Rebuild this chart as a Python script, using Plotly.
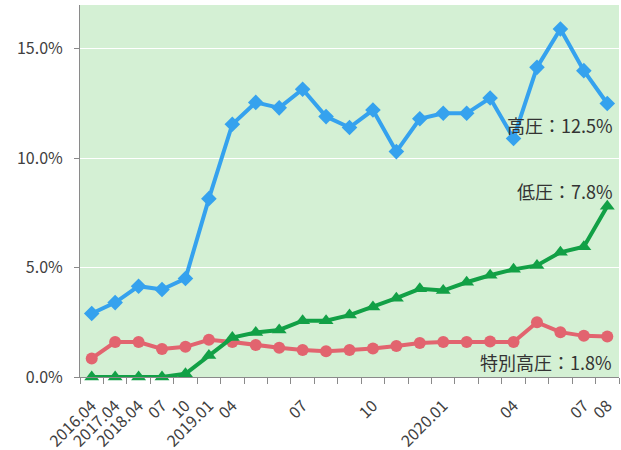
import plotly.graph_objects as go

categories = ["2016.04", "2017.04", "2018.04", "2018.07", "2018.10", "2019.01",
              "2019.04", "2019.05", "2019.06", "2019.07", "2019.08", "2019.09",
              "2019.10", "2019.11", "2019.12", "2020.01", "2020.02", "2020.03",
              "2020.04", "2020.05", "2020.06", "2020.07", "2020.08"]
tick_labels = ["2016.04", "2017.04", "2018.04", "07", "10", "2019.01",
               "04", "", "", "07", "", "",
               "10", "", "", "2020.01", "", "",
               "04", "", "", "07", "08"]
y_tick_values = [0, 5, 10, 15]
y_tick_labels = ["0.0%", "5.0%", "10.0%", "15.0%"]

high_voltage = [2.9, 3.4, 4.15, 4.0, 4.5, 8.15, 11.55, 12.55, 12.3, 13.15, 11.9, 11.4,
                12.2, 10.3, 11.8, 12.05, 12.05, 12.75, 10.9, 14.15, 15.9, 14.0, 12.5]
special_high = [0.85, 1.6, 1.6, 1.28, 1.38, 1.7, 1.6, 1.46, 1.34, 1.23, 1.18, 1.23,
                1.3, 1.42, 1.55, 1.6, 1.6, 1.62, 1.6, 2.5, 2.05, 1.88, 1.85]
low_voltage = [0.0, 0.0, 0.0, 0.0, 0.15, 0.98, 1.8, 2.03, 2.15, 2.57, 2.57, 2.83,
               3.2, 3.6, 4.03, 3.95, 4.33, 4.65, 4.92, 5.1, 5.7, 5.95, 7.8]

labels = {"high": "高圧：12.5%", "low": "低圧：7.8%", "special": "特別高圧：1.8%"}

xs = list(range(len(categories)))
font_family = "Noto Sans CJK JP, Noto Sans, sans-serif"

fig = go.Figure()
fig.add_trace(go.Scatter(x=xs, y=special_high, mode="lines+markers", name="特別高圧",
                         line=dict(color="#e2646f", width=4),
                         marker=dict(symbol="circle", size=12, color="#e2646f"),
                         cliponaxis=False, text=categories))
fig.add_trace(go.Scatter(x=xs, y=low_voltage, mode="lines+markers", name="低圧",
                         line=dict(color="#12a046", width=4),
                         marker=dict(symbol="triangle-up", size=13, color="#12a046"),
                         cliponaxis=False, text=categories))
fig.add_trace(go.Scatter(x=xs, y=high_voltage, mode="lines+markers", name="高圧",
                         line=dict(color="#35a2ee", width=4),
                         marker=dict(symbol="diamond", size=12, color="#35a2ee"),
                         cliponaxis=False, text=categories))

ann_font = dict(family=font_family, size=18, color="#333333")
last = len(categories) - 1
fig.add_annotation(x=last + 0.5, y=11.5, text=labels["high"], showarrow=False,
                   xanchor="right", yanchor="middle", xshift=-4, font=ann_font)
fig.add_annotation(x=last + 0.5, y=8.5, text=labels["low"], showarrow=False,
                   xanchor="right", yanchor="middle", xshift=-4, font=ann_font)
fig.add_annotation(x=last + 0.5, y=0.68, text=labels["special"], showarrow=False,
                   xanchor="right", yanchor="middle", xshift=-5, font=ann_font)

fig.update_layout(
    width=621, height=450,
    margin=dict(l=80, r=2, t=5, b=73),
    paper_bgcolor="white",
    plot_bgcolor="#d4f0d4",
    showlegend=False,
    font=dict(family=font_family, size=14, color="#404040"),
)
fig.update_xaxes(
    range=[-0.5, last + 0.5], automargin=False,
    tickmode="array", tickvals=xs, ticktext=tick_labels,
    tickangle=-45, ticks="", showgrid=False, zeroline=False,
    showline=True, linecolor="#8a8a8a", linewidth=1,
    tickfont=dict(size=16, color="#404040"),
    ticklabelstandoff=12,
    minor=dict(tickmode="array", tickvals=[i - 0.5 for i in range(len(categories) + 1)],
               ticks="outside", ticklen=6, tickcolor="#8a8a8a", showgrid=False),
)
fig.update_yaxes(
    range=[0, 17], automargin=False,
    tickmode="array", tickvals=y_tick_values, ticktext=y_tick_labels,
    showgrid=True, gridcolor="white", gridwidth=1, zeroline=False,
    showline=True, linecolor="#8a8a8a", linewidth=1,
    ticks="outside", ticklen=5, tickcolor="#8a8a8a",
    tickfont=dict(size=16, color="#404040"),
    ticklabelstandoff=8,
)

fig.write_html("out.html")
